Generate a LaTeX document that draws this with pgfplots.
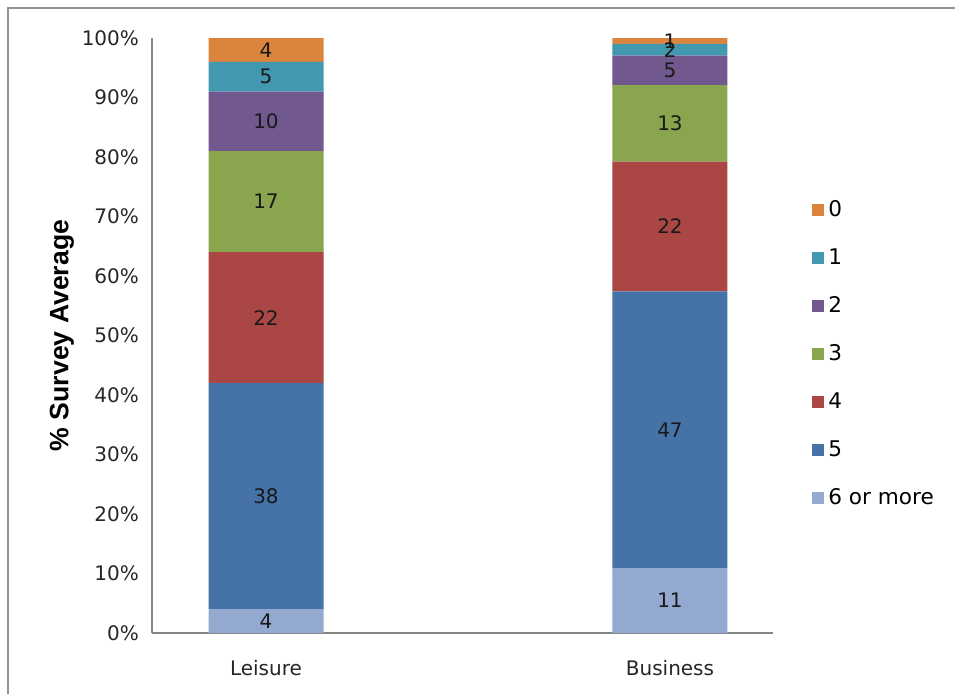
\documentclass[border=0pt]{standalone}
\usepackage{pgfplots}
\pgfplotsset{compat=1.18}
\usepackage{pgfplotstable}
\usepackage{fontspec}
\setmainfont{DejaVu Sans}
\newfontfamily\labelfont{Liberation Sans}
\definecolor{c0}{HTML}{DB843D}
\definecolor{c1}{HTML}{4198AF}
\definecolor{c2}{HTML}{71588F}
\definecolor{c3}{HTML}{89A54E}
\definecolor{c4}{HTML}{AA4643}
\definecolor{c5}{HTML}{4572A7}
\definecolor{c6}{HTML}{93A9CF}
\definecolor{axgray}{HTML}{868686}
\pgfplotstableread{
x y lab
0 4 4
1 10.891 11
}\tsix
\pgfplotstableread{
x y lab
0 38 38
1 46.535 47
}\tfive
\pgfplotstableread{
x y lab
0 22 22
1 21.782 22
}\tfour
\pgfplotstableread{
x y lab
0 17 17
1 12.871 13
}\tthree
\pgfplotstableread{
x y lab
0 10 10
1 4.950 5
}\ttwo
\pgfplotstableread{
x y lab
0 5 5
1 1.980 2
}\tone
\pgfplotstableread{
x y lab
0 4 4
1 0.990 1
}\tzero
\begin{document}
\begin{tikzpicture}[x=1pt,y=1pt]
\useasboundingbox (0,0) rectangle (477.5,346.5);
\draw[axgray!90, line width=1pt] (4,-10) -- (4,342.5) -- (490,342.5);
\begin{axis}[
  at={(76pt,30pt)}, anchor=south west,
  scale only axis, width=310.5pt, height=297.5pt,
  ybar stacked, bar width=57.5pt,
  xmin=-0.2822, xmax=1.255, ymin=0, ymax=100,
  xtick={0,1}, xticklabels={Leisure,Business},
  ytick={0,10,...,100},
  yticklabel={\pgfmathprintnumber{\tick}\%},
  /pgf/number format/assume math mode=true,
  axis x line*=bottom, axis y line*=left,
  axis line style={axgray, line width=0.9pt},
  major tick length=0pt,
  tick label style={font=\fontsize{10}{12}\selectfont, text=black!85},
  xticklabel style={yshift=-10pt},
  yticklabel style={xshift=-3pt},
  ylabel={\% Survey Average},
  every axis y label/.style={at={(axis description cs:-0.145,0.5)}, rotate=90, anchor=center,
    font=\labelfont\bfseries\fontsize{13.3}{15}\selectfont},
  legend style={at={(1.053,0.469)}, anchor=west, draw=none, fill=none,
    font=\fontsize{10.8}{12}\selectfont, row sep=10.5pt},
  legend cell align=left,
  reverse legend,
  legend image code/.code={\path[#1,draw=none] (0pt,-3pt) rectangle (6pt,3pt);},
  point meta=explicit,
  nodes near coords,
  nodes near coords align=center,
  every node near coord/.append style={anchor=center,
    font=\fontsize{10}{12}\selectfont, text=black!90},
]
\addplot[fill=c6, draw=none] table[x=x,y=y,meta=lab] {\tsix};
\addplot[fill=c5, draw=none] table[x=x,y=y,meta=lab] {\tfive};
\addplot[fill=c4, draw=none] table[x=x,y=y,meta=lab] {\tfour};
\addplot[fill=c3, draw=none] table[x=x,y=y,meta=lab] {\tthree};
\addplot[fill=c2, draw=none] table[x=x,y=y,meta=lab] {\ttwo};
\addplot[fill=c1, draw=none] table[x=x,y=y,meta=lab] {\tone};
\addplot[fill=c0, draw=none] table[x=x,y=y,meta=lab] {\tzero};
\legend{6 or more,5,4,3,2,1,0}
\end{axis}
\end{tikzpicture}
\end{document}
